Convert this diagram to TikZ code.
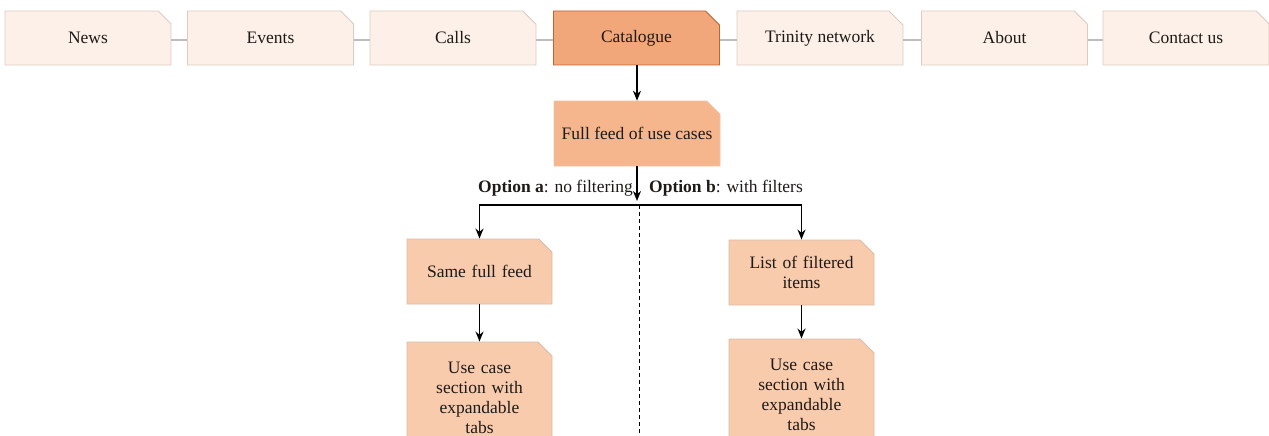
\documentclass[tikz,border=0pt]{standalone}
\usepackage{fontspec}
\setmainfont{Liberation Serif}
\usetikzlibrary{shapes.misc,arrows.meta}

\definecolor{menufill}{HTML}{FCF0E8}
\definecolor{menuline}{HTML}{DDCBC1}
\definecolor{activefill}{HTML}{F2A77A}
\definecolor{activeline}{HTML}{BF6234}
\definecolor{feedfill}{HTML}{F5B68E}
\definecolor{feedline}{HTML}{EDC2A5}
\definecolor{stepfill}{HTML}{F8CBAD}
\definecolor{stepline}{HTML}{D9BBA8}
\definecolor{linkgray}{HTML}{BDBDBD}
\definecolor{inktext}{HTML}{1E1A18}

\tikzset{
  tab/.style={chamfered rectangle, chamfered rectangle corners=north east,
    chamfered rectangle xsep=7pt, chamfered rectangle ysep=7pt,
    inner sep=0pt, align=center, text=inktext,
    font=\fontsize{17.5}{20}\selectfont},
  menubox/.style={tab, draw=menuline, fill=menufill, line width=0.9pt,
    minimum width=166pt, minimum height=54pt},
  activebox/.style={menubox, draw=activeline, fill=activefill},
  feedbox/.style={tab, draw=feedline, fill=feedfill, line width=0.6pt,
    minimum width=166pt, minimum height=65pt},
  stepbox/.style={tab, draw=stepline, fill=stepfill, line width=0.9pt,
    minimum width=145pt, text width=120pt},
  menulink/.style={draw=linkgray, line width=1.4pt},
  flow/.style={draw=black, line width=1.6pt, -{Stealth[length=10pt,width=8pt]}},
  optlabel/.style={font=\fontsize{17.5}{20}\selectfont, inner sep=0pt, text=inktext}
}

\begin{document}
\begin{tikzpicture}[x=1pt, y=-1pt]
  \useasboundingbox (0,0) rectangle (1269,436);
  \clip (0,0) rectangle (1269,436);

  % top navigation
  \node[menubox]   (news)    at (88,38)     {News};
  \node[menubox]   (events)  at (270.5,38)  {Events};
  \node[menubox]   (calls)   at (453,38)    {Calls};
  \node[activebox] (cat)     at (636.5,38)  {Catalogue};
  \node[menubox]   (trinity) at (820,38)    {Trinity network};
  \node[menubox]   (about)   at (1004.5,38) {About};
  \node[menubox]   (contact) at (1186,38)   {Contact us};

  \foreach \a/\b in {news/events, events/calls, calls/cat, cat/trinity,
                     trinity/about, about/contact}
    \draw[menulink] ([yshift=-2pt]\a.east) -- ([yshift=-2pt]\b.west);

  % catalogue feed
  \node[feedbox] (feed) at (637,133.5) {Full feed of use cases};
  \draw[flow] (feed.north |- cat.south) -- (feed.north);

  \coordinate (split) at (637,205);
  \coordinate (bottom) at (639.5,440);
  \draw[flow, shorten >=4pt] (feed.south) -- (split);

  \node[optlabel, anchor=east] (opta) at (633,188) {\textbf{Option a}: no filtering};
  \node[optlabel, anchor=west] (optb) at (649,188) {\textbf{Option b}: with filters};

  % option a
  \node[stepbox, minimum height=65pt] (same) at (479.5,271.5) {Same full feed};
  \node[stepbox, minimum height=112pt] (usea) at (479.5,398) {Use case\\section with\\expandable\\tabs};

  % option b
  \node[stepbox, minimum height=65pt] (list) at (801.5,272.5) {List of filtered\\items};
  \node[stepbox, minimum height=112pt] (useb) at (801.5,395) {Use case\\section with\\expandable\\tabs};

  \draw[flow] (split) -| (same.north);
  \draw[flow] (split) -| (list.north);
  \draw[flow] (same.south) -- (usea.north);
  \draw[flow] (list.south) -- (useb.north);

  \draw[line width=1.6pt, dash pattern=on 4pt off 3pt] ([xshift=2.5pt]split) -- (bottom);
\end{tikzpicture}
\end{document}
